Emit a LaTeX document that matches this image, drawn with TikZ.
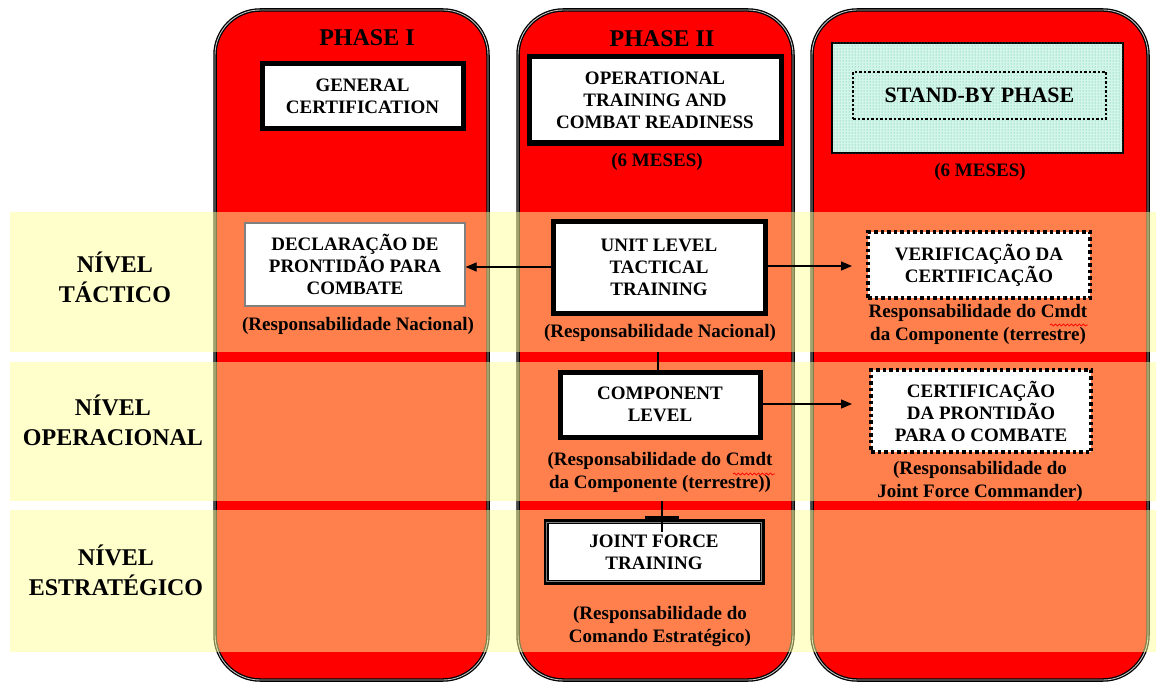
\documentclass[tikz,border=0pt]{standalone}
\usepackage{fontspec}
\setmainfont{Liberation Serif}
\usetikzlibrary{arrows.meta,patterns,decorations.pathmorphing}
\definecolor{colred}{RGB}{255,0,0}
\definecolor{bandy}{RGB}{255,255,153}
\definecolor{mint}{RGB}{212,245,234}
\definecolor{mintdot}{RGB}{60,185,150}
\newcommand\bxf{\fontsize{19}{22}\selectfont\bfseries}
\newcommand\rsf{\fontsize{19}{23}\selectfont\bfseries}
\newcommand\lvf{\fontsize{24}{30}\selectfont\bfseries}
\newcommand\phf{\fontsize{24}{28}\selectfont\bfseries}
\begin{document}
\begin{tikzpicture}[x=1pt,y=-1pt,
  col/.style={fill=colred, draw=black, line width=1.3pt, double=white!55!gray, double distance=0.9pt, rounded corners=45pt},
  band/.style={fill=bandy, fill opacity=0.5, draw=none},
  thickbox/.style={draw=black, line width=5pt, fill=white, align=center, font=\bxf, inner sep=0pt},
  thinbox/.style={draw=gray, line width=1.2pt, fill=white, align=center, font=\bxf, inner sep=0pt},
  dotbox/.style={draw=black, line width=4pt, dash pattern=on 3.5pt off 3pt, fill=white, align=center, font=\bxf, inner sep=0pt},
  resp/.style={align=center, font=\rsf, inner sep=0pt},
  lvl/.style={align=center, font=\lvf, inner sep=0pt},
  phase/.style={font=\phf, inner sep=0pt},
  arr/.style={-{Triangle[length=11pt,width=9pt]}, line width=1.2pt},
  conn/.style={line width=2pt},
  wavy/.style={draw=red, line width=0.7pt, decorate, decoration={snake, segment length=4pt, amplitude=1pt}}
]
\useasboundingbox (0,0) rectangle (1156,682);
% columns
\draw[col] (215,10) rectangle (488,680);
\draw[col] (518,10) rectangle (793,680);
\draw[col] (812,10) rectangle (1148,680);
% bands
\fill[band] (10,212) rectangle (1156,352);
\fill[band] (10,362) rectangle (1156,501);
\fill[band] (10,510) rectangle (1156,652);
% headers
\node[phase] (ph1) at (367,38) {PHASE I};
\node[phase] (ph2) at (662,39) {PHASE II};
\node[thickbox, minimum width=201, minimum height=65] (gen) at (362.5,96.5) {GENERAL\\CERTIFICATION};
\node[thickbox, minimum width=252, minimum height=86] (op) at (655,100) {OPERATIONAL\\TRAINING AND\\COMBAT READINESS};
\node[resp] (m2) at (657,162) {(6 MESES)};
\node[draw=black, line width=1.2pt, fill=mint, postaction={pattern=dots, pattern color=mintdot}, minimum width=291, minimum height=110, inner sep=0pt] (sb) at (977.5,98) {};
\node[draw=black, line width=2.5pt, dash pattern=on 2.5pt off 2pt, minimum width=253, minimum height=47, inner sep=0pt, font=\fontsize{22}{26}\selectfont\bfseries] (sbi) at (979.5,95.5) {STAND-BY PHASE};
\node[resp] (m3) at (980,172) {(6 MESES)};
% level labels
\node[lvl] (l1) at (115,277) {NÍVEL\\TÁCTICO};
\node[lvl] (l2) at (113,420) {NÍVEL\\OPERACIONAL};
\node[lvl] (l3) at (116,570) {NÍVEL\\ESTRATÉGICO};
% row 1
\node[thinbox, minimum width=220, minimum height=83] (decl) at (355,264.5) {DECLARAÇÃO DE\\PRONTIDÃO PARA\\COMBATE};
\node[resp] (declr) at (358,326) {(Responsabilidade Nacional)};
\node[thickbox, minimum width=212, minimum height=92] (unit) at (659,267.5) {UNIT LEVEL\\TACTICAL\\TRAINING};
\node[resp] (unitr) at (660,333) {(Responsabilidade Nacional)};
\node[dotbox, minimum width=222, minimum height=66] (ver) at (979,265) {VERIFICAÇÃO DA\\CERTIFICAÇÃO};
\node[resp] (verr) at (978,324) {Responsabilidade do Cmdt\\da Componente (terrestre)};
% row 2
\node[thickbox, minimum width=200, minimum height=65] (comp) at (660,404.5) {COMPONENT\\LEVEL};
\node[resp] (compr) at (660,472) {(Responsabilidade do Cmdt\\da Componente (terrestre))};
\node[dotbox, minimum width=220, minimum height=82] (cert) at (981,411) {CERTIFICAÇÃO\\DA PRONTIDÃO\\PARA O COMBATE};
\node[resp] (certr) at (980,481) {(Responsabilidade do\\Joint Force Commander)};
% row 3
\node[thickbox, minimum width=216, minimum height=61] (joint) at (654,552) {JOINT FORCE\\TRAINING};
\draw[gray, line width=1pt] ([shift={(3.2pt,-3.2pt)}]joint.north west) rectangle ([shift={(-3.2pt,3.2pt)}]joint.south east);
\node[resp] (jointr) at (660,626) {(Responsabilidade do\\Comando Estratégico)};
% connectors
\coordinate (t1) at (852,266);
\coordinate (t2) at (852,404);
\coordinate (c1) at (658,352);
\coordinate (c2) at (662,501);
\coordinate (c3) at (662,532);
\draw[arr] (unit.west |- 0,267) -- (decl.east |- 0,267);
\draw[arr] (unit.east |- t1) -- (t1);
\draw[arr] (comp.east |- t2) -- (t2);
\draw[conn] (c1) -- (c1 |- comp.north);
\draw[conn] (c2) -- (c3);
\fill[black] (645,516) rectangle (679,522);
% spell-check underlines
\draw[wavy] (1050,325) -- (1088,325);
\draw[wavy] (733,474) -- (775,474);
\end{tikzpicture}
\end{document}
